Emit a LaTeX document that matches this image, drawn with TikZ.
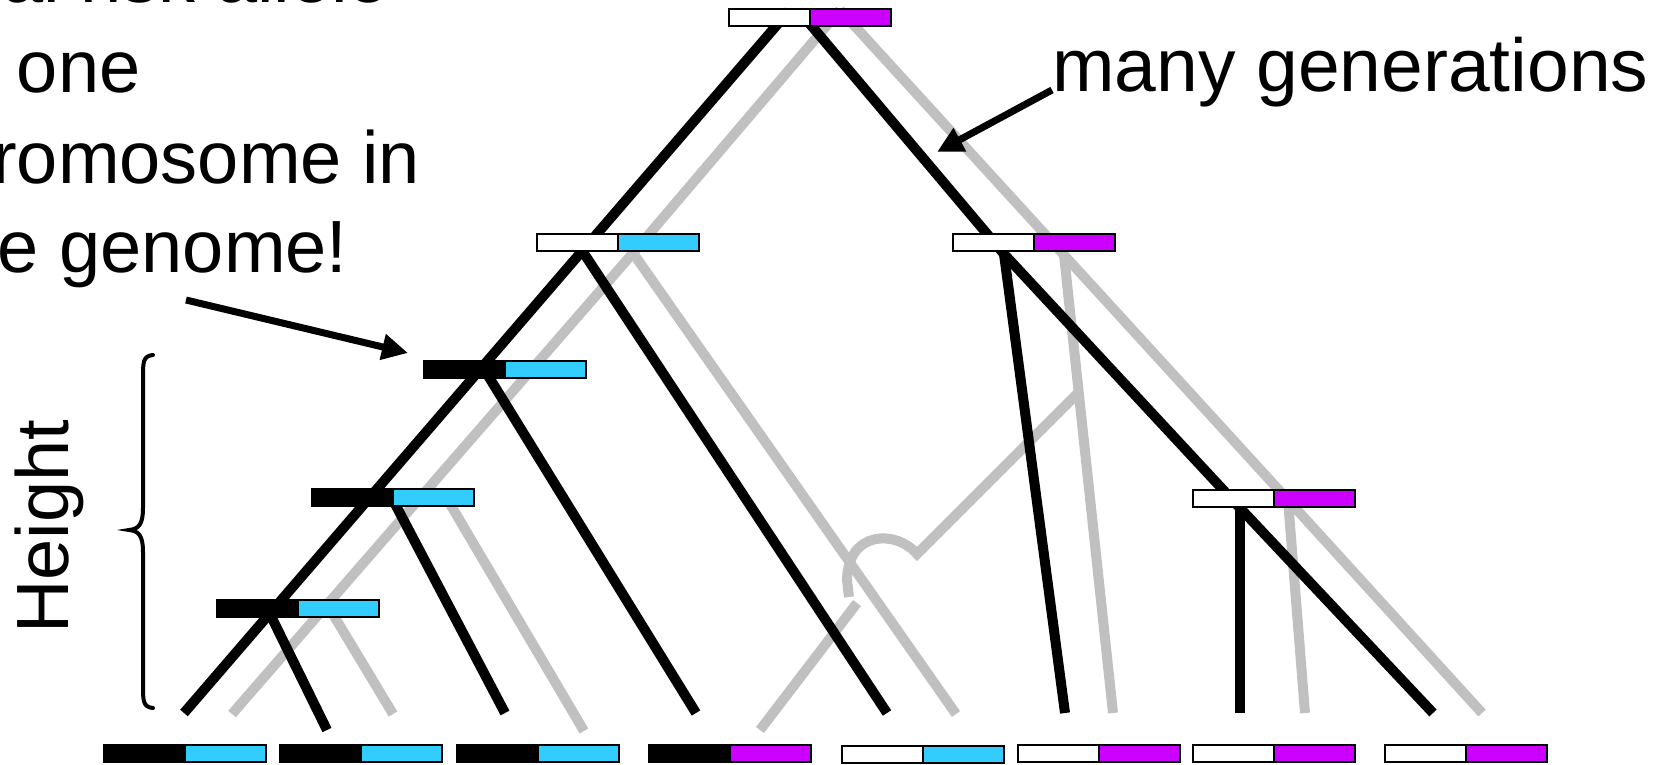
\documentclass[tikz,border=0pt]{standalone}
\usepackage{fontspec}
\setmainfont{Liberation Sans}
\usetikzlibrary{arrows.meta}
\definecolor{cyanbar}{HTML}{33CCFF}
\definecolor{purplebar}{HTML}{CC00FF}
\definecolor{lgray}{HTML}{C0C0C0}
\newcommand{\chrom}[5]{%
  \node[seg, fill=#4] (#1a) at (#2,#3) {};
  \node[seg, fill=#5, anchor=west] (#1b) at (#1a.east) {};}
\begin{document}
\begin{tikzpicture}[x=1pt,y=-1pt,
  seg/.style={draw=black, line width=1.6pt, minimum width=81pt, minimum height=17pt,
              inner sep=0pt, outer sep=0pt, anchor=north west},
  blk/.style={line width=10pt, black},
  gry/.style={line width=10pt, lgray},
  txt/.style={inner sep=0pt, font=\fontsize{74}{88}\selectfont},
  arr/.style={line width=7pt, -{Triangle[length=26pt,width=25pt]}}]
\useasboundingbox (0,0) rectangle (1666,765);

% ---------- coordinates: gray lineage ----------
\coordinate (gT) at (840,10);
\coordinate (gL2) at (633,253);
\coordinate (gB1) at (232,714);
\coordinate (gB2) at (956,714);
\coordinate (gR2) at (1064,255);
\coordinate (gR4) at (1288,500);
\coordinate (gB3) at (1482,713);
\coordinate (gB4) at (1113,713);
\coordinate (gB5) at (1305,713);
\coordinate (gL4) at (443,492);
\coordinate (gB6) at (584,731);
\coordinate (gL5) at (328,606);
\coordinate (gB7) at (393,714);
\coordinate (hA) at (1078,393);
\coordinate (hB) at (917,554);
\coordinate (hC) at (849,597);
\coordinate (hD) at (857,603);
\coordinate (gB8) at (760,730);

% ---------- coordinates: black lineage ----------
\coordinate (kT1) at (789,11);
\coordinate (kB1) at (184,713);
\coordinate (kT2) at (799,11);
\coordinate (kR2) at (1004,254);
\coordinate (kR4) at (1240,508);
\coordinate (kB2) at (1433,713);
\coordinate (kL2) at (583,252);
\coordinate (kB3) at (887,713);
\coordinate (kL3) at (487,374);
\coordinate (kB4) at (696,713);
\coordinate (kL4) at (393,500);
\coordinate (kB5) at (505,713);
\coordinate (kL5) at (268,610);
\coordinate (kB6) at (327,730);
\coordinate (kB7) at (1065,713);
\coordinate (kB8) at (1240,713);

% ---------- gray lines ----------
\draw[gry] (gT) -- (gL2) -- (gB1);
\draw[gry] (gL2) -- (gB2);
\draw[gry] (gT) -- (gR2) -- (gR4) -- (gB3);
\draw[gry] (gR2) -- (gB4);
\draw[gry] (gR4) -- (gB5);
\draw[gry] (gL4) -- (gB6);
\draw[gry] (gL5) -- (gB7);
\draw[gry] (hA) -- (hB) .. controls (897,530) and (848,530) .. (847,580) -- (hC);
\draw[gry] (hD) -- (gB8);

% ---------- black lines ----------
\draw[blk] (kT1) -- (kB1);
\draw[blk] (kT2) -- (kR2) -- (kR4) -- (kB2);
\draw[blk] (kL2) -- (kB3);
\draw[blk] (kL3) -- (kB4);
\draw[blk] (kL4) -- (kB5);
\draw[blk] (kL5) -- (kB6);
\draw[blk] (kR2) -- (kB7);
\draw[blk] (kR4) -- (kB8);

% ---------- chromosomes ----------
\chrom{top}{729}{9}{white}{purplebar}
\chrom{ltwo}{537}{234}{white}{cyanbar}
\chrom{rtwo}{953}{234}{white}{purplebar}
\chrom{lthree}{424}{361}{black}{cyanbar}
\chrom{lfour}{312}{489}{black}{cyanbar}
\chrom{rfour}{1193}{490}{white}{purplebar}
\chrom{lfive}{217}{600}{black}{cyanbar}
\chrom{bone}{104}{745}{black}{cyanbar}
\chrom{btwo}{280}{745}{black}{cyanbar}
\chrom{bthree}{457}{745}{black}{cyanbar}
\chrom{bfour}{649}{745}{black}{purplebar}
\chrom{bfive}{842}{746}{white}{cyanbar}
\chrom{bsix}{1018}{745}{white}{purplebar}
\chrom{bseven}{1193}{745}{white}{purplebar}
\chrom{beight}{1385}{745}{white}{purplebar}

% ---------- texts ----------
\node[txt, anchor=base west] (t1) at (-113,3) {Initial risk allele};
\node[txt, anchor=base west] (t2) at (-86,93) {on one};
\node[txt, anchor=base west] (t3) at (-86,183) {chromosome in};
\node[txt, anchor=base west] (t4) at (-64,272) {the genome!};
\node[txt, font=\fontsize{75}{90}\selectfont, anchor=base west] (mg) at (1052,92) {many generations};
\node[txt, rotate=90, anchor=base west] (ht) at (68,634) {Height};

% ---------- arrows ----------
\coordinate (a1s) at (186,300);
\coordinate (a1e) at (408,353);
\coordinate (a2s) at (1052,90);
\coordinate (a2e) at (937,152);
\draw[arr] (a1s) -- (a1e);
\draw[arr] (a2s) -- (a2e);

% ---------- brace ----------
\draw[line width=4pt, line cap=round]
  (153,355) .. controls (143,356) and (143,362) .. (143,378) -- (143,508)
  .. controls (143,524) and (139,529) .. (129,530)
  .. controls (139,531) and (143,536) .. (143,552) -- (143,685)
  .. controls (143,701) and (143,707) .. (153,708);
\end{tikzpicture}
\end{document}
